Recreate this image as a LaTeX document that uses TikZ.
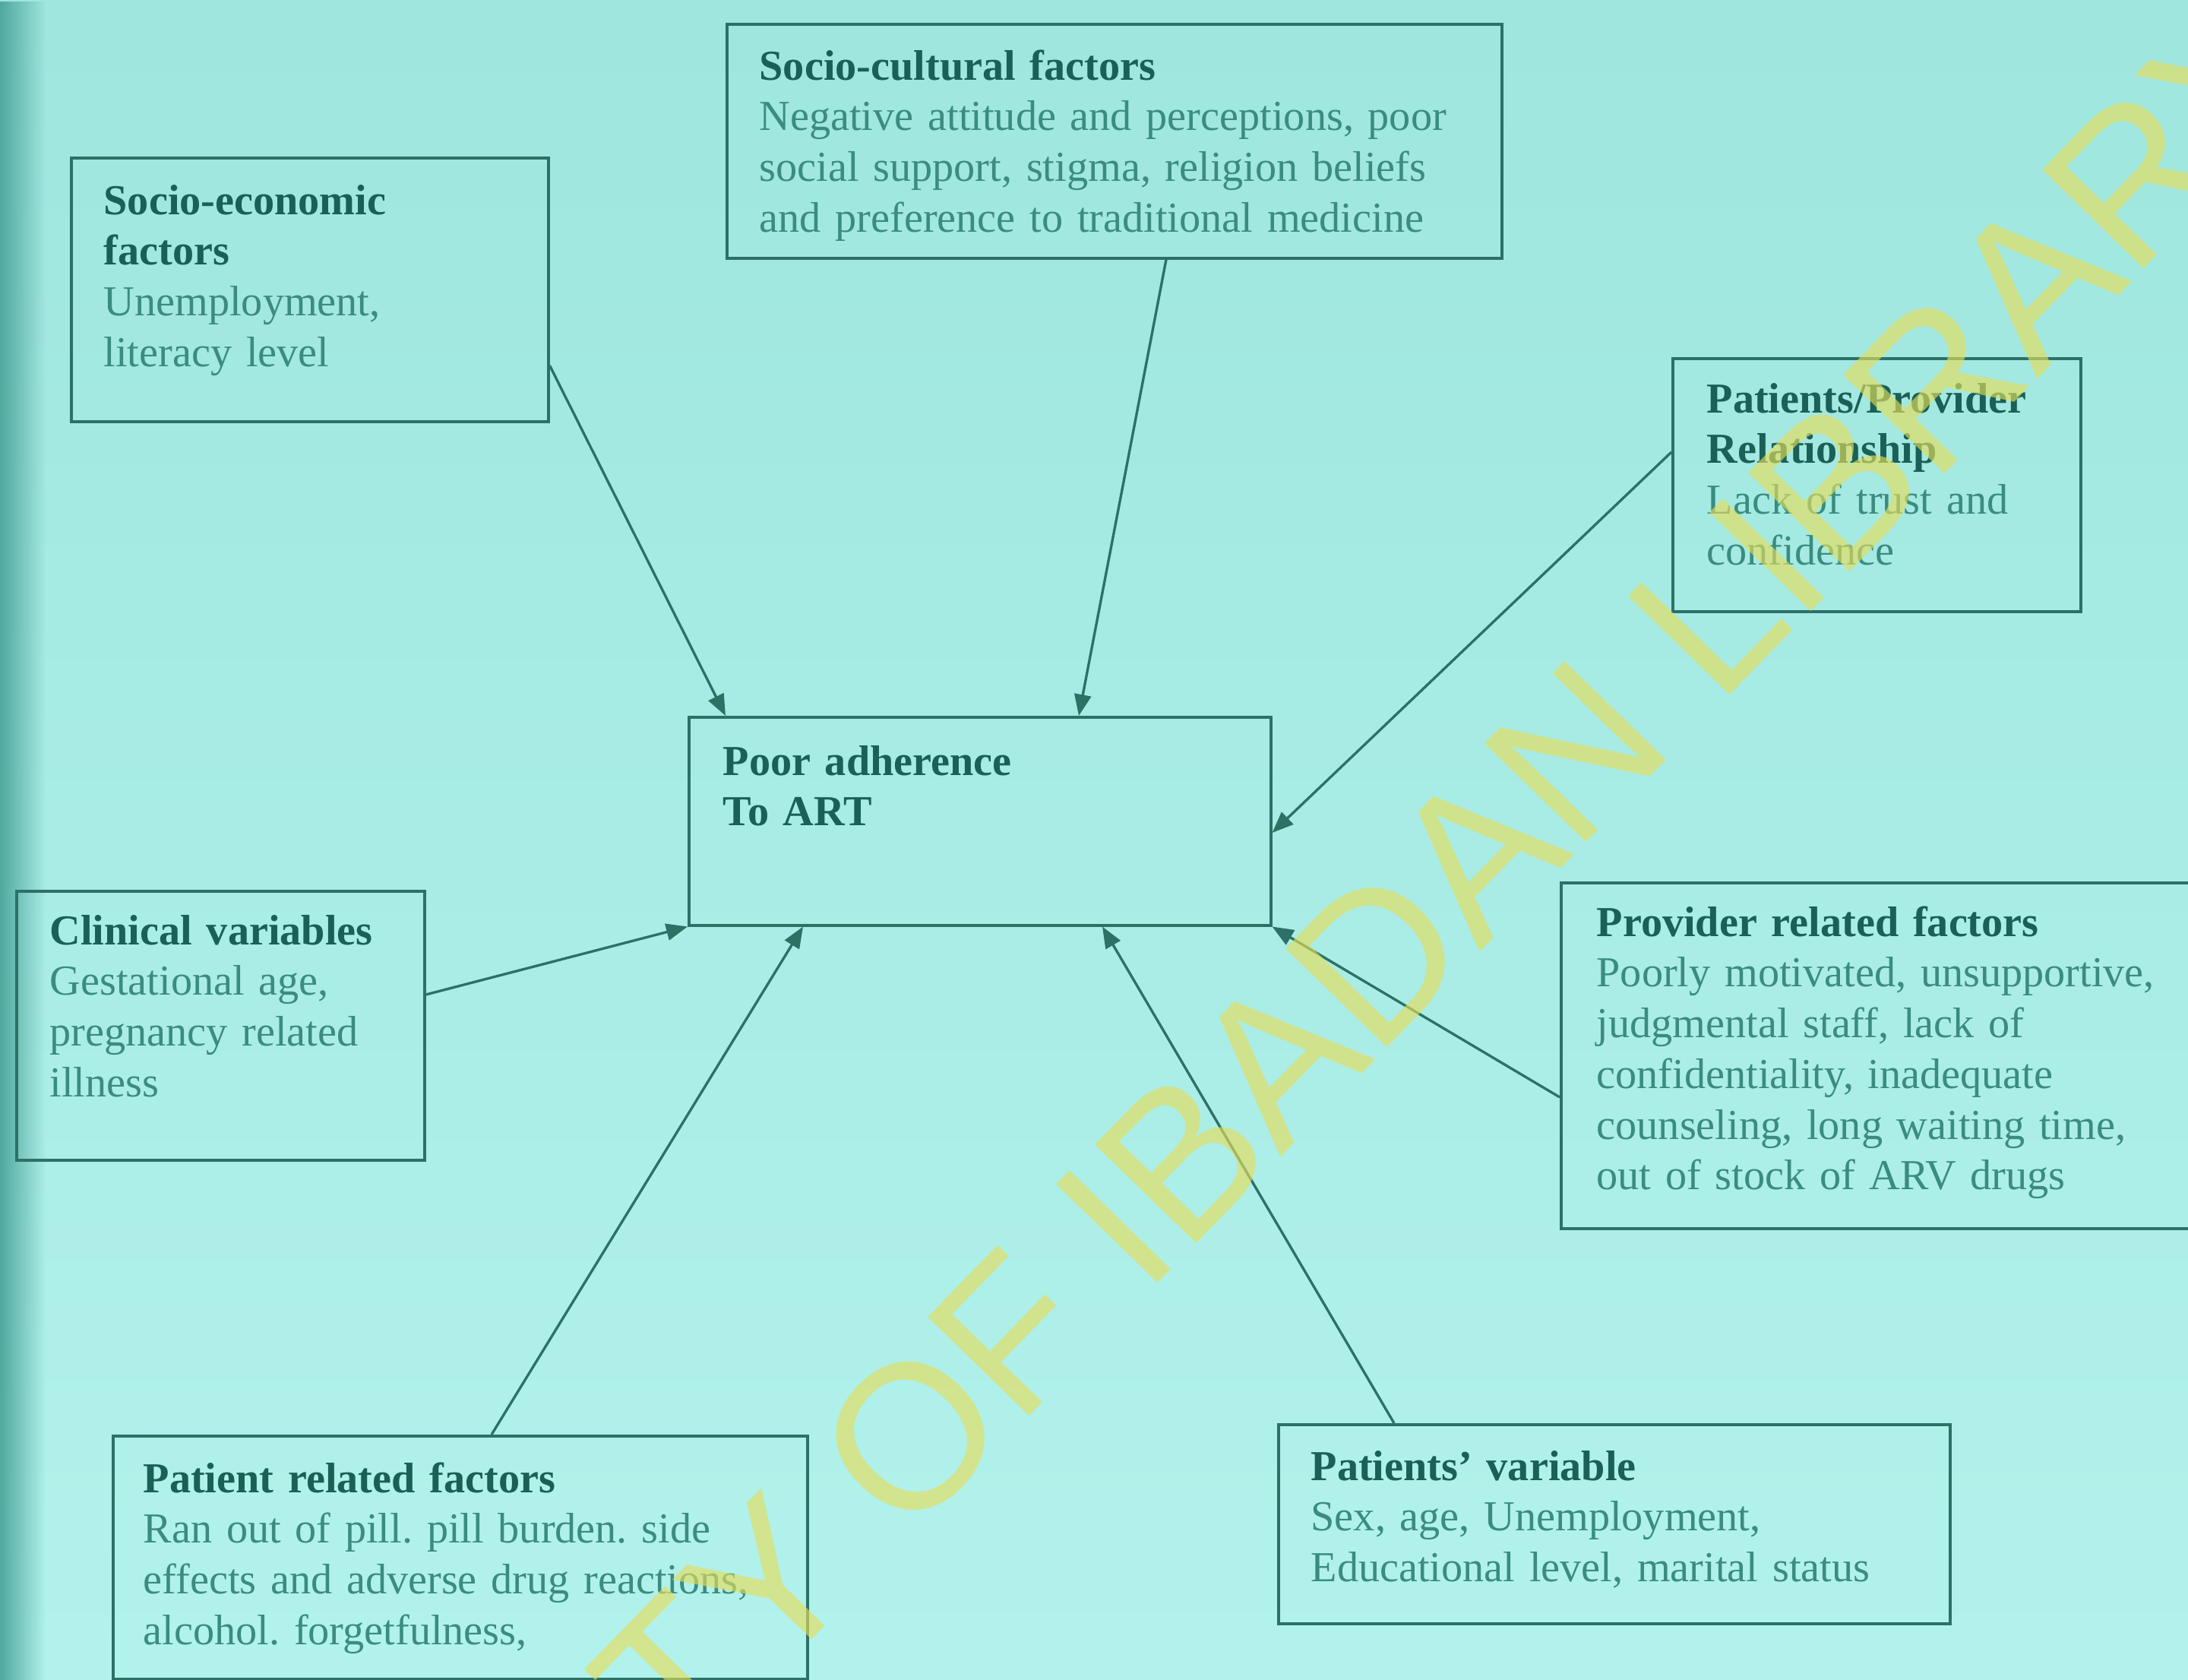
\documentclass[tikz,border=0pt]{standalone}
\usepackage{fontspec}
\setmainfont{Liberation Serif}
\newfontfamily\wmfont{Liberation Sans}
\usepackage{xcolor}
\usetikzlibrary{arrows.meta,positioning,calc,fadings}
\definecolor{bgtop}{RGB}{158,230,222}
\definecolor{bgbot}{RGB}{178,242,236}
\definecolor{scanedge}{RGB}{80,168,158}
\definecolor{boxline}{RGB}{44,112,102}
\definecolor{headcol}{RGB}{26,96,86}
\definecolor{bodycol}{RGB}{58,140,128}
\definecolor{wmyellow}{RGB}{230,222,90}
\newcommand{\facthead}[1]{{\color{headcol}\bfseries #1}}
\frenchspacing

\begin{document}
\begin{tikzpicture}[
  factorbox/.style={draw=boxline, line width=1pt, anchor=north west, inner sep=0pt},
  factortext/.style={anchor=base west, inner sep=0pt, text width=11cm, align=left,
    text=bodycol, font=\fontsize{16}{19}\selectfont},
  link/.style={draw=boxline, line width=0.95pt, -{Triangle[length=2.8mm,width=2.2mm]}}]
\useasboundingbox (0,0) rectangle (28.8,-22.11);
\fill[top color=bgtop, bottom color=bgbot] (0,0) rectangle (28.8,-22.11);
\fill[scanedge, path fading=east] (0,0) rectangle (0.6,-22.11);

% boxes
\node[factorbox, minimum width=6.28cm, minimum height=3.47cm] (secon) at (0.92,-2.06) {};
\node[factorbox, minimum width=10.20cm, minimum height=3.08cm] (scult) at (9.55,-0.30) {};
\node[factorbox, minimum width=5.37cm, minimum height=3.33cm] (relat) at (22.00,-4.70) {};
\node[factorbox, minimum width=7.66cm, minimum height=2.74cm] (poor) at (9.05,-9.42) {};
\node[factorbox, minimum width=5.37cm, minimum height=3.54cm] (clin) at (0.20,-11.71) {};
\node[factorbox, minimum width=8.40cm, minimum height=4.55cm] (provr) at (20.53,-11.60) {};
\node[factorbox, minimum width=9.14cm, minimum height=3.20cm] (patr) at (1.47,-18.88) {};
\node[factorbox, minimum width=8.84cm, minimum height=2.62cm] (patv) at (16.81,-18.73) {};

% texts
\node[factortext] (secon-t) at (1.36,-2.82) {\facthead{Socio-economic}\\ \facthead{factors}\\ Unemployment,\\ literacy level};
\node[factortext] (scult-t) at (9.99,-1.05) {\facthead{Socio-cultural factors}\\ Negative attitude and perceptions, poor\\ social support, stigma, religion beliefs\\ and preference to traditional medicine};
\node[factortext] (relat-t) at (22.46,-5.43) {\facthead{Patients/Provider}\\ \facthead{Relationship}\\ Lack of trust and\\ confidence};
\node[factortext] (poor-t) at (9.51,-10.20) {\facthead{Poor adherence}\\ \facthead{To ART}};
\node[factortext] (clin-t) at (0.65,-12.43) {\facthead{Clinical variables}\\ Gestational age,\\ pregnancy related\\ illness};
\node[factortext] (provr-t) at (21.01,-12.32) {\facthead{Provider related factors}\\ Poorly motivated, unsupportive,\\ judgmental staff, lack of\\ confidentiality, inadequate\\ counseling, long waiting time,\\ out of stock of ARV drugs};
\node[factortext] (patr-t) at (1.88,-19.64) {\facthead{Patient related factors}\\ Ran out of pill. pill burden. side\\ effects and adverse drug reactions,\\ alcohol. forgetfulness,};
\node[factortext] (patv-t) at (17.25,-19.48) {\facthead{Patients' variable}\\ Sex, age, Unemployment,\\ Educational level, marital status};

% arrows into the centre box
\draw[link] ($(secon.north east)+(0,-2.75)$) -- ($(poor.north west)+(0.50,0)$);
\draw[link] ($(scult.south west)+(5.80,0)$) -- ($(poor.north west)+(5.15,0)$);
\draw[link] ($(relat.north west)+(0,-1.25)$) -- ($(poor.north east)+(0,-1.54)$);
\draw[link] ($(clin.north east)+(0,-1.38)$) -- (poor.south west);
\draw[link] ($(patr.north west)+(5.00,0)$) -- ($(poor.south west)+(1.52,0)$);
\draw[link] ($(patv.north west)+(1.54,0)$) -- ($(poor.south west)+(5.46,0)$);
\draw[link] ($(provr.north west)+(0,-2.84)$) -- (poor.south east);

\begin{scope}
\clip (0,0) rectangle (28.8,-22.11);
\node[rotate=45.8, text=wmyellow, opacity=0.64, inner sep=0pt,
  font=\wmfont\fontsize{77}{77}\selectfont] (wmark) at (14.70,-16.11) {UNIVERSITY OF IBADAN LIBRARY};
\end{scope}
\end{tikzpicture}
\end{document}
